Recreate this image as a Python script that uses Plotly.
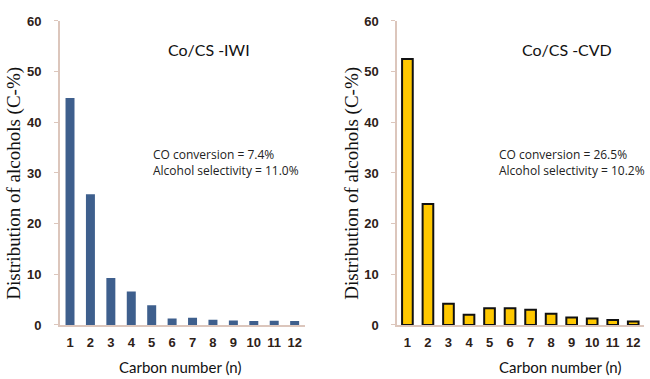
import plotly.graph_objects as go
from plotly.subplots import make_subplots

# Carbon number of the alcohol product
carbon_numbers = list(range(1, 13))
tick_labels = [str(n) for n in carbon_numbers]

# Alcohol distribution (C-%) for the two catalysts
iwi_values = [44.8, 25.8, 9.3, 6.6, 3.9, 1.3, 1.45, 1.05, 0.9, 0.8, 0.85, 0.8]
cvd_values = [52.5, 23.9, 4.2, 2.0, 3.3, 3.3, 3.0, 2.2, 1.5, 1.3, 1.0, 0.7]

panel_titles = ["Co/CS -IWI", "Co/CS -CVD"]
panel_notes = [
    "CO conversion = 7.4%<br>Alcohol selectivity = 11.0%",
    "CO conversion = 26.5%<br>Alcohol selectivity = 10.2%",
]
y_title = "Distribution of alcohols (C-%)"
x_title = "Carbon number (n)"
y_ticks = [0, 10, 20, 30, 40, 50, 60]

AXIS_COLOR = "#dcc6bc"
TICK_FONT = dict(family="Liberation Sans Narrow, Arial Narrow, Liberation Sans",
                 size=13, color="#2e2118", weight="bold")
SANS = "Lato, Open Sans, Liberation Sans, Arial"
NOTE_SANS = "Open Sans, Liberation Sans, Arial"
SERIF = "Liberation Serif, Times New Roman, serif"

fig = make_subplots(rows=1, cols=2)

fig.add_trace(
    go.Bar(
        x=carbon_numbers, y=iwi_values, width=0.44,
        marker=dict(color="#3e5f8d", line=dict(width=0)),
        showlegend=False,
    ),
    row=1, col=1,
)
fig.add_trace(
    go.Bar(
        x=carbon_numbers, y=cvd_values, width=0.52,
        marker=dict(color="#ffc800", line=dict(color="#111111", width=2)),
        showlegend=False,
    ),
    row=1, col=2,
)

x_domains = [[0.092, 0.469], [0.611, 0.990]]
y_domain = [0.1425, 0.9446]

for xd, col in zip(x_domains, [1, 2]):
    fig.update_xaxes(
        domain=xd, range=[0.5, 12.5], automargin=False,
        tickmode="array", tickvals=carbon_numbers, ticktext=tick_labels,
        tickfont=TICK_FONT, ticks="", showline=True, linecolor=AXIS_COLOR,
        linewidth=1.5, showgrid=False, zeroline=False, ticklabelstandoff=5,
        row=1, col=col,
    )
    fig.update_yaxes(
        domain=y_domain, range=[0, 60], automargin=False,
        tickmode="array", tickvals=y_ticks,
        tickfont=TICK_FONT, ticks="outside", ticklen=4, tickcolor=AXIS_COLOR,
        showline=True, linecolor=AXIS_COLOR, linewidth=1.5,
        showgrid=False, zeroline=False, ticklabelstandoff=10,
        row=1, col=col,
    )

# Panel titles, notes and axis titles
title_x = [0.322, 0.872]
note_x = [0.232, 0.764]
ytitle_x = [0.021, 0.541]
xtitle_x = [0.277, 0.862]
for i in range(2):
    fig.add_annotation(
        text=panel_titles[i], xref="paper", yref="paper",
        x=title_x[i], y=1 - 50 / 379, xanchor="center", yanchor="middle",
        showarrow=False, font=dict(family=SANS, size=16, color="#111111"),
    )
    fig.add_annotation(
        text=panel_notes[i], xref="paper", yref="paper",
        x=note_x[i], y=1 - 162 / 379, xanchor="left", yanchor="middle",
        align="left", showarrow=False,
        font=dict(family=NOTE_SANS, size=12, color="#222222"),
    )
    fig.add_annotation(
        text=y_title, xref="paper", yref="paper",
        x=ytitle_x[i], y=1 - 183 / 379, xanchor="center", yanchor="middle",
        textangle=-90, showarrow=False,
        font=dict(family=SERIF, size=19, color="#111111"),
    )
    fig.add_annotation(
        text=x_title, xref="paper", yref="paper",
        x=xtitle_x[i], y=1 - 367 / 379, xanchor="center", yanchor="middle",
        showarrow=False, font=dict(family=SANS, size=15, color="#111111"),
    )

fig.update_layout(
    width=650, height=379,
    margin=dict(l=0, r=0, t=0, b=0),
    paper_bgcolor="white", plot_bgcolor="white",
    bargap=0.5,
)

fig.write_html("out.html")
